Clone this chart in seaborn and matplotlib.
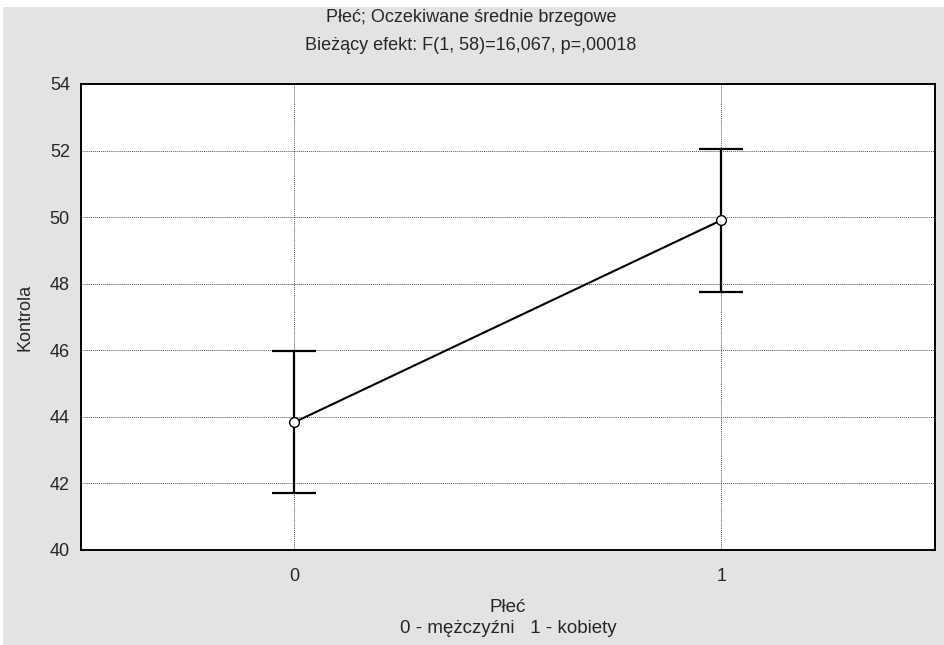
import numpy as np
import pandas as pd
import matplotlib
matplotlib.use("Agg")
import matplotlib.pyplot as plt
import seaborn as sns
from matplotlib.patches import Rectangle

# Marginal means with 95% CI
groups = [0, 1]
means = [43.84, 49.91]
ci_low = [41.71, 47.76]
ci_high = [45.97, 52.04]

df = pd.DataFrame({"Plec": groups, "Kontrola": means})

sns.set_style("white")
plt.rcParams["font.family"] = ["Liberation Sans", "DejaVu Sans"]

fig = plt.figure(figsize=(9.45, 6.45), dpi=100)
fig.patch.set_facecolor("white")
# grey panel behind everything (STATISTICA style)
fig.patches.append(Rectangle((3 / 945, 0), 1, 638 / 645, transform=fig.transFigure,
                             facecolor="#e3e3e3", edgecolor="none", zorder=-10))

ax = fig.add_axes([81 / 945, 95 / 645, 854 / 945, 466 / 645])
ax.set_facecolor("white")

# error bars
yerr = np.array([np.array(means) - np.array(ci_low), np.array(ci_high) - np.array(means)])
ax.errorbar(groups, means, yerr=yerr, fmt="none", ecolor="black", elinewidth=1.6,
            capsize=16, capthick=1.6, zorder=3)

sns.lineplot(data=df, x="Plec", y="Kontrola", ax=ax, color="black", linewidth=1.5,
             marker="o", markersize=7, markerfacecolor="white", markeredgecolor="black",
             markeredgewidth=1.0, zorder=4)

ax.set_xlim(-0.5, 1.5)
ax.set_ylim(40, 54)
ax.set_xticks(groups)
ax.set_yticks(np.arange(40, 55, 2))
ax.grid(True, linestyle=(0, (1, 1)), color="#555555", linewidth=0.7)
ax.set_axisbelow(True)
for s in ax.spines.values():
    s.set_color("black")
    s.set_linewidth(1.4)
ax.tick_params(axis="y", length=0, labelsize=13, pad=8)
ax.tick_params(axis="x", length=0, labelsize=13, pad=13)

ax.set_xlabel("Płeć\n0 - mężczyźni   1 - kobiety", fontsize=13.5, labelpad=10, linespacing=1.3)
ax.set_ylabel("Kontrola", fontsize=13, labelpad=12)

cx = 0.5 + 0.5 * 3 / 945 - 0.003
fig.text(cx, 1 - 18 / 645, "Płeć; Oczekiwane średnie brzegowe",
         ha="center", va="center", fontsize=13)
fig.text(cx, 1 - 46 / 645, "Bieżący efekt: F(1, 58)=16,067, p=,00018",
         ha="center", va="center", fontsize=13)

fig.savefig("out.png", dpi=100)
